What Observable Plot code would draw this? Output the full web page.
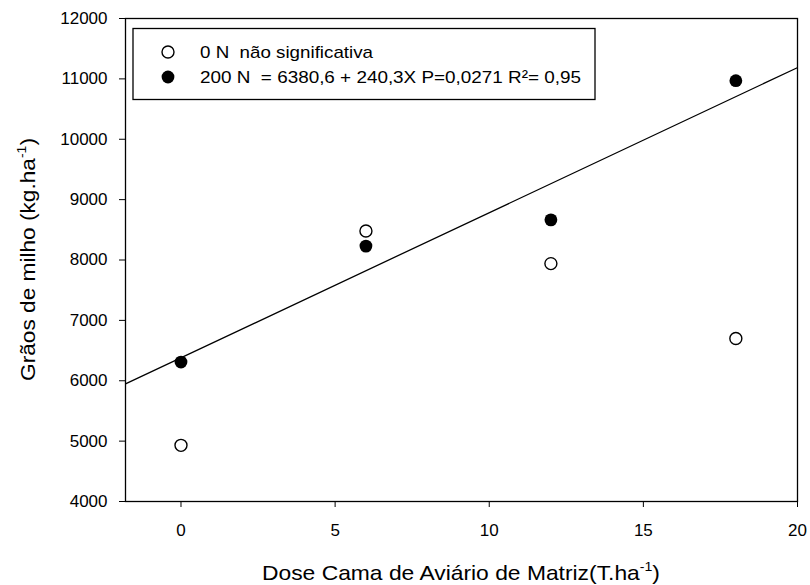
<!DOCTYPE html>
<html><head><meta charset="utf-8">
<script src="https://cdn.jsdelivr.net/npm/d3@7"></script>
<script src="https://cdn.jsdelivr.net/npm/@observablehq/plot@0.6"></script>
<style>
body{margin:0;background:#fff;}
#chart{position:relative;width:810px;height:585px;font-family:"Liberation Sans",Arial,Helvetica,sans-serif;}
</style>
</head><body><div id="chart"></div>
<script>
// ---- data ----
const doses = [0, 6, 12, 18];
const yield0N = [4930, 8480, 7940, 6700];
const yield200N = [6310, 8230, 8665, 10970];
const seriesLabels = ["0 N  não significativa", "200 N  = 6380,6 + 240,3X P=0,0271 R²= 0,95"];
const intercept200 = 6380.6;
const slope200 = 240.3;
const xTicks = [0, 5, 10, 15, 20];
const yTicks = [4000, 5000, 6000, 7000, 8000, 9000, 10000, 11000, 12000];
const xDomain = [-1.8, 20];
const yDomain = [4000, 12000];
const xTitle = "Dose Cama de Aviário de Matriz(T.ha";
const yTitle = "Grãos de milho (kg.ha";

// ---- derived tables ----
const d0 = doses.map((x, i) => ({x, y: yield0N[i]}));
const d200 = doses.map((x, i) => ({x, y: yield200N[i]}));
const fit = xDomain.map(x => ({x, y: intercept200 + slope200 * x}));

const font = "'Liberation Sans', Arial, Helvetica, sans-serif";
const plot = Plot.plot({
  width: 810, height: 585,
  marginLeft: 125, marginRight: 13, marginTop: 18, marginBottom: 84,
  style: {fontFamily: font, fontSize: "17px", color: "#000", background: "#fff", overflow: "visible"},
  x: {domain: xDomain, ticks: xTicks, tickSize: 6, tickPadding: 16, label: null, tickFormat: d3.format("d")},
  y: {domain: yDomain, ticks: yTicks, tickSize: 6, tickPadding: 12, label: null, tickFormat: d3.format("d")},
  marks: [
    Plot.line(fit, {x: "x", y: "y", stroke: "#000", strokeWidth: 1.3, clip: true}),
    Plot.dot(d0, {x: "x", y: "y", r: 6, stroke: "#000", fill: "#fff", strokeWidth: 1.4}),
    Plot.dot(d200, {x: "x", y: "y", r: 6.4, fill: "#000", stroke: "none"}),
    Plot.frame({stroke: "#000", strokeWidth: 1.3})
  ]
});
document.getElementById("chart").appendChild(plot);

const svg = d3.select(plot);
const sx = plot.scale("x"), sy = plot.scale("y");
const pLeft = sx.apply(xDomain[0]), pRight = sx.apply(xDomain[1]);
const pTop = sy.apply(yDomain[1]), pBottom = sy.apply(yDomain[0]);

// axis titles
const xt = svg.append("text")
  .attr("x", (pLeft + pRight) / 2).attr("y", 580)
  .attr("text-anchor", "middle").attr("font-size", 21).attr("fill", "#000")
  .attr("textLength", 398).attr("lengthAdjust", "spacingAndGlyphs");
xt.append("tspan").text(xTitle);
xt.append("tspan").attr("font-size", 13).attr("dy", -9).text("-1");
xt.append("tspan").attr("dy", 9).text(")");

const yt = svg.append("text")
  .attr("transform", `translate(35,${(pTop + pBottom) / 2}) rotate(-90)`)
  .attr("text-anchor", "middle").attr("font-size", 21).attr("fill", "#000")
  .attr("textLength", 243).attr("lengthAdjust", "spacingAndGlyphs");
yt.append("tspan").text(yTitle);
yt.append("tspan").attr("font-size", 13).attr("dy", -9).text("-1");
yt.append("tspan").attr("dy", 9).text(")");

// legend
const lg = svg.append("g");
lg.append("rect").attr("x", 133).attr("y", 28.5).attr("width", 462).attr("height", 71)
  .attr("fill", "#fff").attr("stroke", "#000").attr("stroke-width", 1.3);
const rows = [
  {fill: "#fff", stroke: "#000", r: 6, y: 52, len: 173},
  {fill: "#000", stroke: "none", r: 6.4, y: 77, len: 381}
];
rows.forEach((row, i) => {
  lg.append("circle").attr("cx", 168).attr("cy", row.y).attr("r", row.r)
    .attr("fill", row.fill).attr("stroke", row.stroke).attr("stroke-width", 1.4);
  lg.append("text").attr("x", 200).attr("y", row.y + 6).attr("font-size", 17)
    .attr("text-anchor", "start").attr("textLength", row.len).attr("lengthAdjust", "spacingAndGlyphs")
    .attr("fill", "#000").style("white-space", "pre").text(seriesLabels[i]);
});
</script>
</body></html>
